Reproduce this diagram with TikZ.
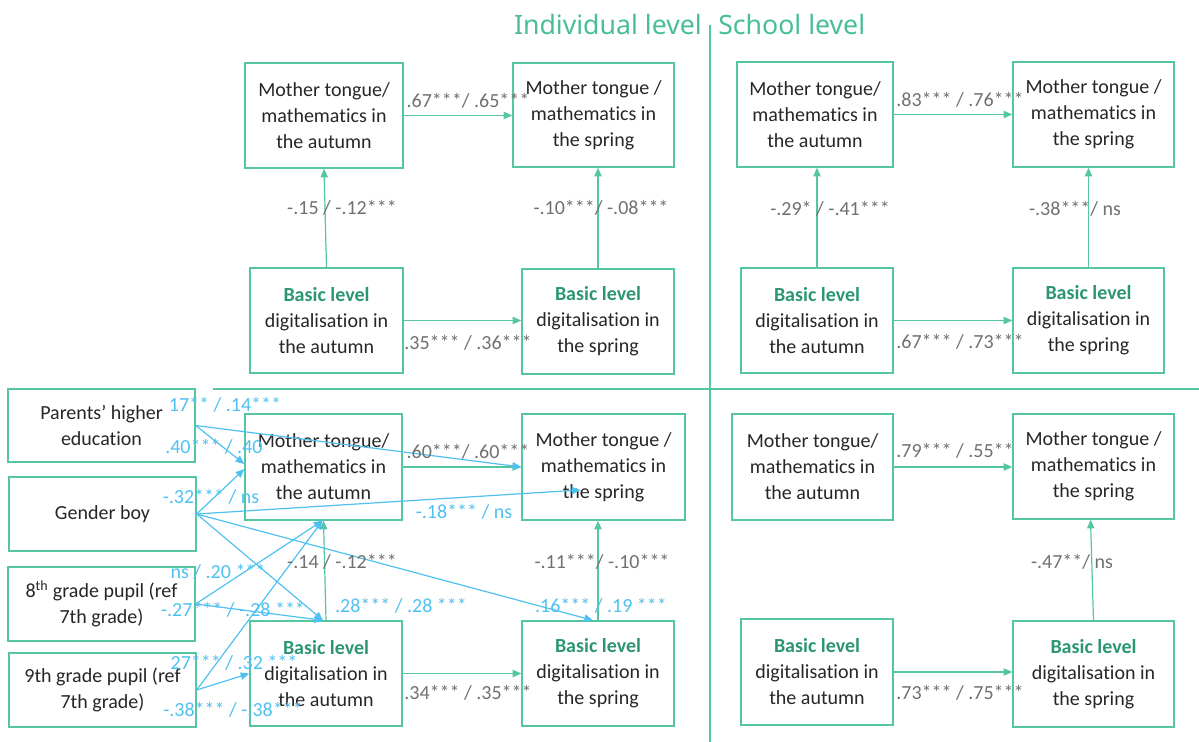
\documentclass[tikz,border=0pt]{standalone}
\usepackage{fontspec}
\setmainfont{Carlito}[Ligatures=NoCommon]
\newfontfamily\headfont{Noto Sans}
\usetikzlibrary{arrows.meta,calc}
\definecolor{tealline}{RGB}{86,198,162}
\definecolor{headcol}{RGB}{72,190,152}
\definecolor{basiccol}{RGB}{44,150,114}
\definecolor{bluecol}{RGB}{79,193,240}
\definecolor{graycol}{RGB}{112,112,112}
\definecolor{boxtext}{RGB}{38,38,38}
\begin{document}
\begin{tikzpicture}[x=0.75pt,y=-0.75pt,
 box/.style={draw=tealline, line width=1pt, inner sep=0pt, align=center, font=\fontsize{15}{19.5}\selectfont, text=boxtext},
 garrow/.style={draw=tealline, line width=0.9pt, -{Triangle[length=6.5pt,width=5.5pt]}},
 barrow/.style={draw=bluecol, line width=0.9pt, -{Triangle[length=6.5pt,width=5.5pt]}},
 glabel/.style={text=graycol, font=\fontsize{15}{18}\selectfont, inner sep=0pt},
 blabel/.style={text=bluecol, font=\fontsize{15}{18}\selectfont, inner sep=0pt},
 heading/.style={text=headcol, font=\headfont\fontsize{20}{24}\selectfont, inner sep=0pt},
 divider/.style={draw=tealline, line width=1.2pt}
]
\useasboundingbox (0,0) rectangle (1199,742);
\newcommand{\basic}{\textcolor{basiccol}{\textbf{Basic level}}}
\newcommand{\mybox}[6]{\node[box, minimum width={(#4-#2)*0.75pt}, minimum height={(#5-#3)*0.75pt}] (#1) at ({(#2+#4)/2},{(#3+#5)/2}) {#6};}

% headings and dividers
\node[heading, anchor=base east] (h1) at (702,35) {Individual level};
\node[heading, anchor=base west] (h2) at (718,35) {School level};
\coordinate (vtop) at (710,25);
\coordinate (vbot) at (710,742);
\coordinate (hl) at (213,389);
\coordinate (hr) at (1199,389);
\draw[divider] (vtop) -- (vbot);
\draw[divider] (hl) -- (hr);

% top-left (individual level)
\mybox{A1}{245}{63}{403}{168}{Mother tongue/\\mathematics in\\the autumn}
\mybox{A2}{513}{63}{674}{167}{Mother tongue /\\mathematics in\\the spring}
\mybox{A3}{250}{268}{403}{373}{\basic\\digitalisation in\\the autumn}
\mybox{A4}{522}{269}{674}{374}{\basic\\digitalisation in\\the spring}
\draw[garrow] (A1.east) -- (A1.east -| A2.west);
\draw[garrow] (A3.east) -- (A3.east -| A4.west);
\draw[garrow] (A3.north) -- (A1.south);
\draw[garrow] (A4.north) -- (A4.north |- A2.south);
\node[glabel] (la1) at (468,101) {.67***/ .65***};
\node[glabel] (la2) at (342,208) {-.15 / -.12***};
\node[glabel] (la3) at (601,208) {-.10***/ -.08***};
\node[glabel] (la4) at (468,343) {.35*** / .36***};

% top-right (school level)
\mybox{B1}{737}{62}{893}{167}{Mother tongue/\\mathematics in\\the autumn}
\mybox{B2}{1013}{62}{1174}{167}{Mother tongue /\\mathematics in\\the spring}
\mybox{B3}{741}{268}{893}{373}{\basic\\digitalisation in\\the autumn}
\mybox{B4}{1013}{268}{1164}{373}{\basic\\digitalisation in\\the spring}
\draw[garrow] (B1.east) -- (B1.east -| B2.west);
\draw[garrow] (B3.east) -- (B3.east -| B4.west);
\draw[garrow] (B3.north) -- (B3.north |- B1.south);
\draw[garrow] (B4.north) -- (B4.north |- B2.south);
\node[glabel] (lb1) at (960,100) {.83*** / .76***};
\node[glabel] (lb2) at (830,209) {-.29* / -.41***};
\node[glabel] (lb3) at (1075,209) {-.38***/ ns};
\node[glabel] (lb4) at (960,342) {.67*** / .73***};

% bottom-right (school level)
\mybox{D1}{732}{414}{893}{520}{Mother tongue/\\mathematics in\\the autumn}
\mybox{D2}{1013}{414}{1174}{519}{Mother tongue /\\mathematics in\\the spring}
\mybox{D3}{741}{619}{893}{725}{\basic\\digitalisation in\\the autumn}
\mybox{D4}{1013}{621}{1174}{727}{\basic\\digitalisation in\\the spring}
\draw[garrow] (D1.east) -- (D1.east -| D2.west);
\draw[garrow] (D3.east) -- (D3.east -| D4.west);
\draw[garrow] (D4.north) -- ($(D2.south)+(-3,0)$);
\node[glabel] (ld1) at (955,451) {.79*** / .55**};
\node[glabel] (ld2) at (1072,562) {-.47**/ ns};
\node[glabel] (ld3) at (960,693) {.73*** / .75***};

% bottom-left (individual level with covariates)
\mybox{P}{8}{389}{195}{462}{Parents’ higher\\education}
\mybox{G}{9}{477}{196}{551}{Gender boy}
\mybox{E}{8}{567}{195}{641}{8\textsuperscript{th} grade pupil (ref\\7th grade)}
\mybox{N}{9}{653}{196}{727}{9th grade pupil (ref\\7th grade)}
\mybox{C1}{245}{414}{402}{520}{Mother tongue/\\mathematics in\\the autumn}
\mybox{C2}{522}{414}{685}{520}{Mother tongue /\\mathematics in\\the spring}
\mybox{C3}{250}{621}{402}{726}{\basic\\digitalisation in\\the autumn}
\mybox{C4}{522}{621}{674}{726}{\basic\\digitalisation in\\the spring}
\draw[garrow] (C1.east) -- (C1.east -| C2.west);
\draw[garrow] (C3.east) -- (C3.east -| C4.west);
\draw[garrow] (C3.north) -- (C1.south);
\draw[garrow] (C4.north) -- (C4.north |- C2.south);

\draw[barrow] (P.east) -- (C2.west);
\draw[barrow] (P.east) -- ($(C1.west)+(0,-3)$);
\draw[barrow] (G.east) -- ($(C1.west)+(0,2)$);
\draw[barrow] (G.east) -- ($(C2.center)+(-23,23)$);
\draw[barrow] (G.east) -- ($(C3.north)+(-3,0)$);
\draw[barrow] (G.east) -- ($(C4.north)+(-5,0)$);
\draw[barrow] (E.east) -- ($(C1.south)+(-1,0)$);
\draw[barrow] (E.east) -- ($(C3.north)+(-3,0)$);
\draw[barrow] (N.east) -- ($(C1.south)+(-1,0)$);
\draw[barrow] (N.east) -- (C3.west);

\node[glabel] (lc1) at (468,452) {.60***/ .60***};
\node[glabel] (lc2) at (468,693) {.34*** / .35***};
\node[glabel] (lc3) at (602,562) {-.11***/ -.10***};
\node[glabel] (lc4) at (342,562) {-.14 / -.12***};

\node[blabel] (bl1) at (225,405) {17** / .14***};
\node[blabel, anchor=west] (bl2) at (165,447) {.40*** / .40};
\node[blabel] (bl3) at (211,497) {-.32*** / ns};
\node[blabel] (bl4) at (464,512) {-.18*** / ns};
\node[blabel] (bl5) at (218,572) {ns / .20 ***};
\node[blabel] (bl6) at (233,610) {-.27*** / -.28 ***};
\node[blabel] (bl7) at (401,606) {.28*** / .28 ***};
\node[blabel] (bl8) at (601,606) {.16*** / .19 ***};
\node[blabel] (bl9) at (234,663) {27*** / .32 ***};
\node[blabel] (bl10) at (233,710) {-.38*** / -.38***};
\end{tikzpicture}
\end{document}
